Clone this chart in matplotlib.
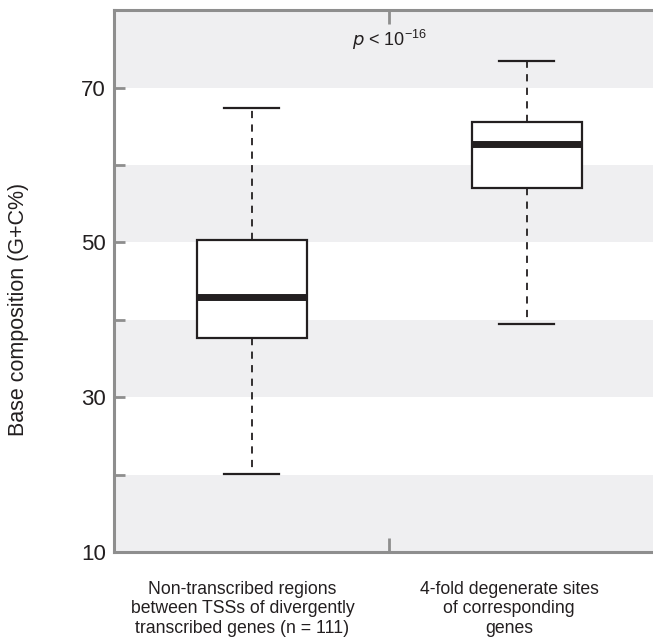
import matplotlib
matplotlib.use("Agg")
import matplotlib.pyplot as plt

plt.rcParams['font.family'] = ['Liberation Sans', 'DejaVu Sans']

# box statistics (G+C %)
groups = ['Non-transcribed regions\nbetween TSSs of divergently\ntranscribed genes (n = 111)',
          '4-fold degenerate sites\nof corresponding\ngenes']
whislo = [20.1, 39.5]
q1 = [37.6, 57.0]
med = [42.9, 62.7]
q3 = [50.3, 65.5]
whishi = [67.4, 73.4]

grey = '#8e8e8e'
band = '#efeff1'
ink = '#231f20'

fig = plt.figure(figsize=(6.53, 6.4), dpi=100)
ax = fig.add_axes([0.175, 0.1375, 0.83, 0.8465])

# alternating background stripes
for lo in [10, 30, 50, 70]:
    ax.axhspan(lo, lo + 10, color=band, lw=0, zorder=0)

stats = []
for i in range(len(groups)):
    stats.append(dict(whislo=whislo[i], q1=q1[i], med=med[i], q3=q3[i],
                      whishi=whishi[i], fliers=[]))

ax.bxp(stats, positions=[1, 2], widths=0.4, showfliers=False, patch_artist=True,
       boxprops=dict(facecolor='white', edgecolor=ink, lw=1.6),
       medianprops=dict(color=ink, lw=5, solid_capstyle='butt'),
       whiskerprops=dict(color=ink, lw=1.3, ls=(0, (4, 3.5))),
       capprops=dict(color=ink, lw=1.6), capwidths=0.2, zorder=3)

ax.set_xlim(0.5, 2.47)
ax.set_ylim(10, 80)
ax.set_yticks([10, 30, 50, 70])
ax.set_yticks([20, 40, 60], minor=True)
ax.set_xticks([1.5])
ax.set_xticklabels([])

ax.tick_params(axis='y', which='both', direction='in', length=8, width=2,
               color=grey, labelsize=16, pad=6, labelcolor=ink)
ax.tick_params(axis='x', direction='in', length=10, width=2, color=grey,
               top=True, bottom=True)

for side in ['left', 'bottom', 'top']:
    ax.spines[side].set_color(grey)
    ax.spines[side].set_linewidth(2.2)
ax.spines['right'].set_visible(False)

# group captions sit a little left of each box
for xpos, lab in zip([0.966, 1.935], groups):
    ax.text(xpos, 6.3, lab, ha='center', va='top', fontsize=12.7,
            linespacing=1.2, color=ink)

ax.text(1.5, 76.2, r'$\it{p}$ < 10$^{\mathregular{-16}}$', ha='center', va='center',
        fontsize=13, color=ink)

fig.text(0.029, 0.516, 'Base composition (G+C%)', rotation=90, ha='center',
         va='center', fontsize=15.5, color=ink)

fig.savefig('out.png', dpi=100)
